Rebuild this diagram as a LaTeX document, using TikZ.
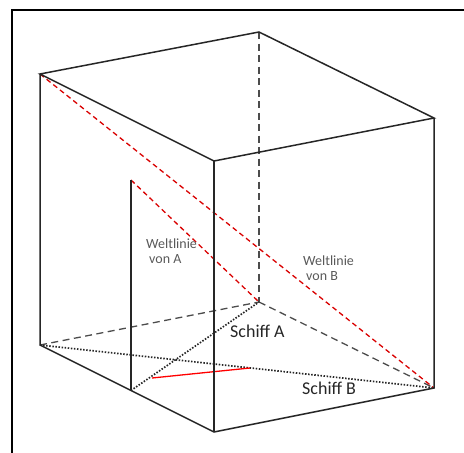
\documentclass[tikz,border=0pt]{standalone}
\usepackage{fontspec}
\setmainfont{Carlito}
\begin{document}
\begin{tikzpicture}[x=1pt,y=-1pt,
  edge/.style={line width=1.5pt,black!85},
  hidden/.style={line width=1.3pt,black!70,dash pattern=on 7pt off 4.5pt},
  redline/.style={line width=1.3pt,red!85!black,dash pattern=on 5pt off 3.5pt},
  dotline/.style={line width=1.7pt,black!85,dash pattern=on 1.5pt off 1.6pt},
  small/.style={font=\fontsize{14}{15}\selectfont,text=black!65,align=left,inner sep=0pt},
  big/.style={font=\fontsize{18}{19}\selectfont,text=black!85,inner sep=0pt}]
\useasboundingbox (0,0) rectangle (464,453);
% frame
\coordinate (fbl) at (12,453);
\coordinate (ftl) at (12,10);
\coordinate (ftr) at (464,10);
\draw[line width=1.8pt] (fbl) -- (ftl) -- (ftr);
% cube
\coordinate (TL) at (40,74);
\coordinate (TB) at (259,32);
\coordinate (TR) at (434,118);
\coordinate (TF) at (214,161);
\coordinate (BL) at (40,345);
\coordinate (BB) at (259,302);
\coordinate (BR) at (434,388);
\coordinate (BF) at (214,432);
\coordinate (IT) at (131,180);
\coordinate (IB) at (131,390.5);
\coordinate (R1) at (152,378);
\coordinate (R2) at (250,368);
% hidden edges
\draw[hidden] (TB) -- (BB);
\draw[hidden] (BL) -- (BB);
\draw[hidden] (BB) -- (BR);
% dotted
\draw[dotline] (BL) -- (BR);
\draw[dotline] (IB) -- (BB);
% world lines
\draw[redline] (TL) -- (BR);
\draw[redline] (IT) -- (BB);
\draw[line width=1.3pt,red] (R1) -- (R2);
% visible edges
\draw[edge] (TL) -- (TB) -- (TR) -- (TF) -- cycle;
\draw[edge] (TL) -- (BL) -- (BF) -- (BR) -- (TR);
\draw[edge] (TF) -- (BF);
\draw[edge] (IT) -- (IB);
% labels
\node[small,anchor=north west] (la) at (146,239) {Weltlinie\\\hspace*{3pt}von A};
\node[small,anchor=north west] (lb) at (303,256) {Weltlinie\\\hspace*{3pt}von B};
\node[big,anchor=west] (sa) at (230,331) {Schiff A};
\node[big,anchor=west] (sb) at (302,388) {Schiff B};
\end{tikzpicture}
\end{document}
